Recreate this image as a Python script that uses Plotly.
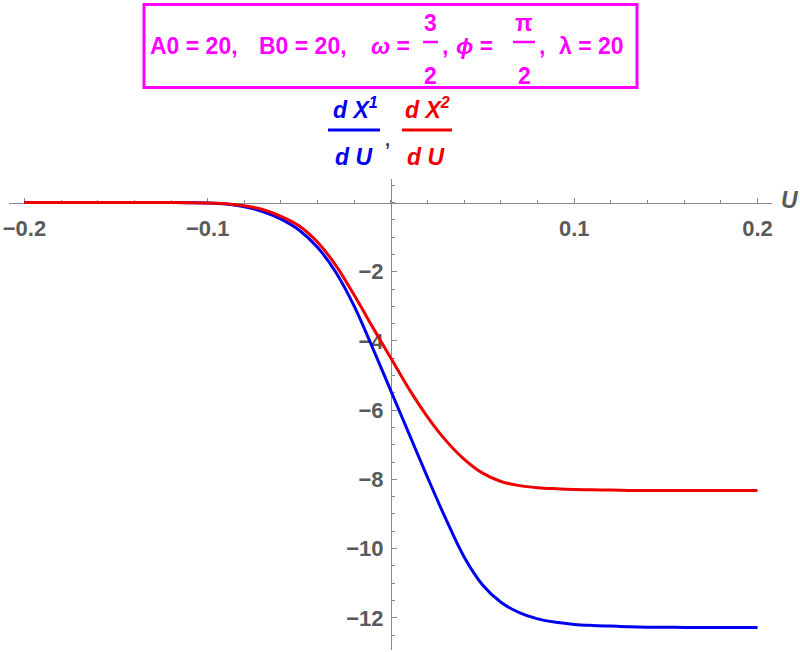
import numpy as np
import plotly.graph_objects as go

# values
u = [-0.2, -0.19, -0.18, -0.17, -0.16, -0.15, -0.14, -0.13, -0.12, -0.11,
     -0.1, -0.09, -0.08, -0.07, -0.06, -0.05, -0.04, -0.03, -0.02, -0.01,
     0.0, 0.01, 0.02, 0.03, 0.04, 0.05, 0.06, 0.07, 0.08, 0.09,
     0.1, 0.11, 0.12, 0.13, 0.14, 0.15, 0.16, 0.17, 0.18, 0.19, 0.2]
dx1_du = [0, 0, 0, 0, 0, 0, 0, 0, -0.002, -0.006,
          -0.015, -0.045, -0.12, -0.26, -0.48, -0.8, -1.3, -2.02, -3.0, -4.2,
          -5.45, -6.7, -7.95, -9.15, -10.25, -11.05, -11.55, -11.85, -12.03, -12.13,
          -12.19, -12.22, -12.24, -12.26, -12.27, -12.27, -12.28, -12.28, -12.28, -12.28, -12.28]
dx2_du = [0, 0, 0, 0, 0, 0, 0, 0, -0.002, -0.005,
          -0.012, -0.035, -0.095, -0.2, -0.4, -0.68, -1.15, -1.82, -2.68, -3.6,
          -4.5, -5.4, -6.2, -6.88, -7.42, -7.82, -8.06, -8.18, -8.24, -8.27,
          -8.29, -8.3, -8.31, -8.32, -8.32, -8.32, -8.32, -8.32, -8.32, -8.32, -8.32]

x_ticks = [-0.2, -0.1, 0.1, 0.2]
x_labels = ["\u22120.2", "\u22120.1", "0.1", "0.2"]
y_ticks = [-12, -10, -8, -6, -4, -2]
y_labels = ["\u221212", "\u221210", "\u22128", "\u22126", "\u22124", "\u22122"]

x_range = [-0.2084, 0.2079]
y_range = [-12.93, 0.68]

W, H = 800, 652
L, R, T, B = 9, 28, 179, 2
PW, PH = W - L - R, H - T - B

def px(x):
    return (x - L) / PW

def py(y):
    return (H - B - y) / PH

MAGENTA = "#ff00ff"
GRAY = "#5a5a5a"
AXIS = "#8a8a8a"
BLUE = "#0000ee"
RED = "#ee0000"

fig = go.Figure()
fig.add_trace(go.Scatter(x=u, y=dx1_du, mode="lines", line=dict(color=BLUE, width=3, shape="spline", smoothing=1)))
fig.add_trace(go.Scatter(x=u, y=dx2_du, mode="lines", line=dict(color=RED, width=3, shape="spline", smoothing=1)))

tick_font = dict(family="Liberation Sans", size=22, color=GRAY, weight="bold")
fig.update_xaxes(
    range=x_range, showgrid=False, zeroline=False, showline=True, linecolor=AXIS, linewidth=1,
    anchor="free", position=(0 - y_range[0]) / (y_range[1] - y_range[0]), side="bottom",
    tickmode="array", tickvals=x_ticks, ticktext=x_labels, ticks="inside", ticklen=5,
    tickcolor=AXIS, tickfont=tick_font, ticklabelstandoff=6, automargin=False, layer="below traces",
    minor=dict(tickmode="array", tickvals=list(np.round(np.arange(-0.2, 0.201, 0.02), 2)),
               ticks="inside", ticklen=3, tickcolor=AXIS),
)
fig.update_yaxes(
    range=y_range, showgrid=False, zeroline=False, showline=True, linecolor=AXIS, linewidth=1,
    anchor="free", position=(0 - x_range[0]) / (x_range[1] - x_range[0]), side="left",
    tickmode="array", tickvals=y_ticks, ticktext=y_labels, ticks="inside", ticklen=5,
    tickcolor=AXIS, tickfont=tick_font, ticklabelstandoff=3, automargin=False, layer="below traces",
    minor=dict(tickmode="array", tickvals=list(np.arange(-12.5, 0.51, 0.5)),
               ticks="inside", ticklen=3, tickcolor=AXIS),
)

def text(s, x, y, color, size=23, xanchor="center", italic=False):
    fig.add_annotation(text=s, x=px(x), y=py(y), xref="paper", yref="paper", showarrow=False,
                       xanchor=xanchor, yanchor="middle",
                       font=dict(family="Liberation Sans", size=size, color=color, weight="bold",
                                 style="italic" if italic else "normal"))

def bar(x0, x1, y, color, width=3):
    fig.add_shape(type="line", xref="paper", yref="paper", x0=px(x0), x1=px(x1), y0=py(y), y1=py(y),
                  line=dict(color=color, width=width))

# title box
fig.add_shape(type="rect", xref="paper", yref="paper", x0=px(144), x1=px(637), y0=py(4.5), y1=py(87.5),
              line=dict(color=MAGENTA, width=3))
text("A0 = 20,", 148, 46, MAGENTA, xanchor="left")
text("B0 = 20,", 257, 46, MAGENTA, xanchor="left")
text("<i>\u03c9</i> =", 369, 46, MAGENTA, xanchor="left")
text("3", 430.5, 23, MAGENTA)
bar(423, 438, 42, MAGENTA, 2.5)
text("2", 430.5, 76, MAGENTA)
text(",", 440, 46, MAGENTA, xanchor="left")
text("<i>\u03d5</i> =", 454, 46, MAGENTA, xanchor="left")
text("\u03c0", 524, 23, MAGENTA)
bar(513, 535, 42, MAGENTA, 2.5)
text("2", 524, 76, MAGENTA)
text(",", 537, 46, MAGENTA, xanchor="left")
text("\u03bb = 20", 557, 46, MAGENTA, xanchor="left")

# curve labels
text("d X<sup>1</sup>", 355, 108, BLUE, italic=True)
bar(328, 380, 130, BLUE)
text("d U", 353.5, 157, BLUE, italic=True)
text(",", 387, 140, "#333333", size=18)
text("d X<sup>2</sup>", 427, 108, RED, italic=True)
bar(402, 452, 130, RED)
text("d U", 426, 157, RED, italic=True)

# axis label
text("U", 790, 200, GRAY, italic=True)

fig.update_layout(
    width=W, height=H, margin=dict(l=L, r=R, t=T, b=B, autoexpand=False),
    plot_bgcolor="white", paper_bgcolor="white", showlegend=False,
)

# the page body has a default 8px margin; drop it so the figure sits at the window's corner
fig.write_html("out.html", config={"displayModeBar": False},
               post_script="document.body.style.margin = '0';")
